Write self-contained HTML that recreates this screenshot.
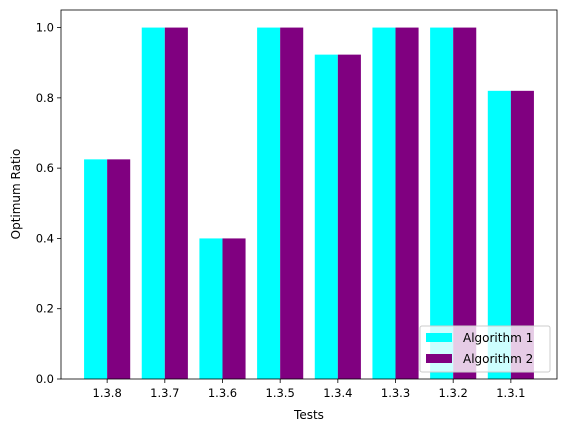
<!DOCTYPE html>
<html><head><meta charset="utf-8"><style>body{margin:0;background:#fff}svg{display:block;font-family:"DejaVu Sans","Liberation Sans",sans-serif}</style></head>
<body>
<svg id="chart" width="567" height="432" viewBox="0 0 567 432" xmlns="http://www.w3.org/2000/svg">
<g id="bars"></g>
<g id="axes"></g>
<g>
<rect x="420" y="326" width="130" height="46" rx="2" fill="#fff" fill-opacity="0.8" stroke="#ccc" stroke-width="1"/>
<rect x="426" y="333" width="26" height="9" fill="#00ffff"/>
<text x="463" y="342" font-size="12" fill="#000">Algorithm 1</text>
<rect x="426" y="354" width="26" height="9" fill="#800080"/>
<text x="463" y="363" font-size="12" fill="#000">Algorithm 2</text>
</g>
<text x="309" y="419" font-size="12" text-anchor="middle">Tests</text>
<text transform="translate(20,194) rotate(-90)" font-size="12" text-anchor="middle">Optimum Ratio</text>
</svg>
<script>
const categories = ["1.3.8","1.3.7","1.3.6","1.3.5","1.3.4","1.3.3","1.3.2","1.3.1"];
const algorithm1 = [0.625, 1.0, 0.4, 1.0, 0.923, 1.0, 1.0, 0.82];
const algorithm2 = [0.625, 1.0, 0.4, 1.0, 0.923, 1.0, 1.0, 0.82];
const yTicks = [0, 0.2, 0.4, 0.6, 0.8, 1.0];
const yTickLabels = ["0.0","0.2","0.4","0.6","0.8","1.0"];

const NS = "http://www.w3.org/2000/svg";
const L = 61, R = 557, T = 10, B = 379;
const xmin = -0.8, xmax = categories.length - 0.2;
const ymax = 1.05;
const xs = v => L + (v - xmin) / (xmax - xmin) * (R - L);
const ys = v => B - v / ymax * (B - T);
const bw = 0.4;
const barsG = document.getElementById('bars');
const axesG = document.getElementById('axes');
function mk(tag, attrs, parent) { const e = document.createElementNS(NS, tag); for (const k in attrs) e.setAttribute(k, attrs[k]); parent.appendChild(e); return e; }

categories.forEach((c, i) => {
  const b1 = mk('rect', {x: xs(i - bw), y: ys(algorithm1[i]), width: xs(i) - xs(i - bw), height: B - ys(algorithm1[i]), fill: '#00ffff'}, barsG);
  
  
  const b2 = mk('rect', {x: xs(i), y: ys(algorithm2[i]), width: xs(i + bw) - xs(i), height: B - ys(algorithm2[i]), fill: '#800080'}, barsG);
  
  
  const tk = mk('line', {x1: xs(i), x2: xs(i), y1: B, y2: B + 4, stroke: '#000', 'stroke-width': 0.8}, axesG);
  
  
  const tl = mk('text', {x: xs(i), y: B + 18, 'font-size': 11.5, 'text-anchor': 'middle'}, axesG);
  tl.textContent = c;
  
  
});
yTicks.forEach((v, i) => {
  const tk = mk('line', {x1: L - 4, x2: L, y1: ys(v), y2: ys(v), stroke: '#000', 'stroke-width': 0.8}, axesG);
  
  
  const tl = mk('text', {x: L - 7, y: ys(v) + 4, 'font-size': 11.5, 'text-anchor': 'end'}, axesG);
  tl.textContent = yTickLabels[i];
  
  
});
const frame = mk('rect', {x: L, y: T, width: R - L, height: B - T, fill: 'none', stroke: '#000', 'stroke-width': 0.8}, axesG);


</script>
</body></html>
